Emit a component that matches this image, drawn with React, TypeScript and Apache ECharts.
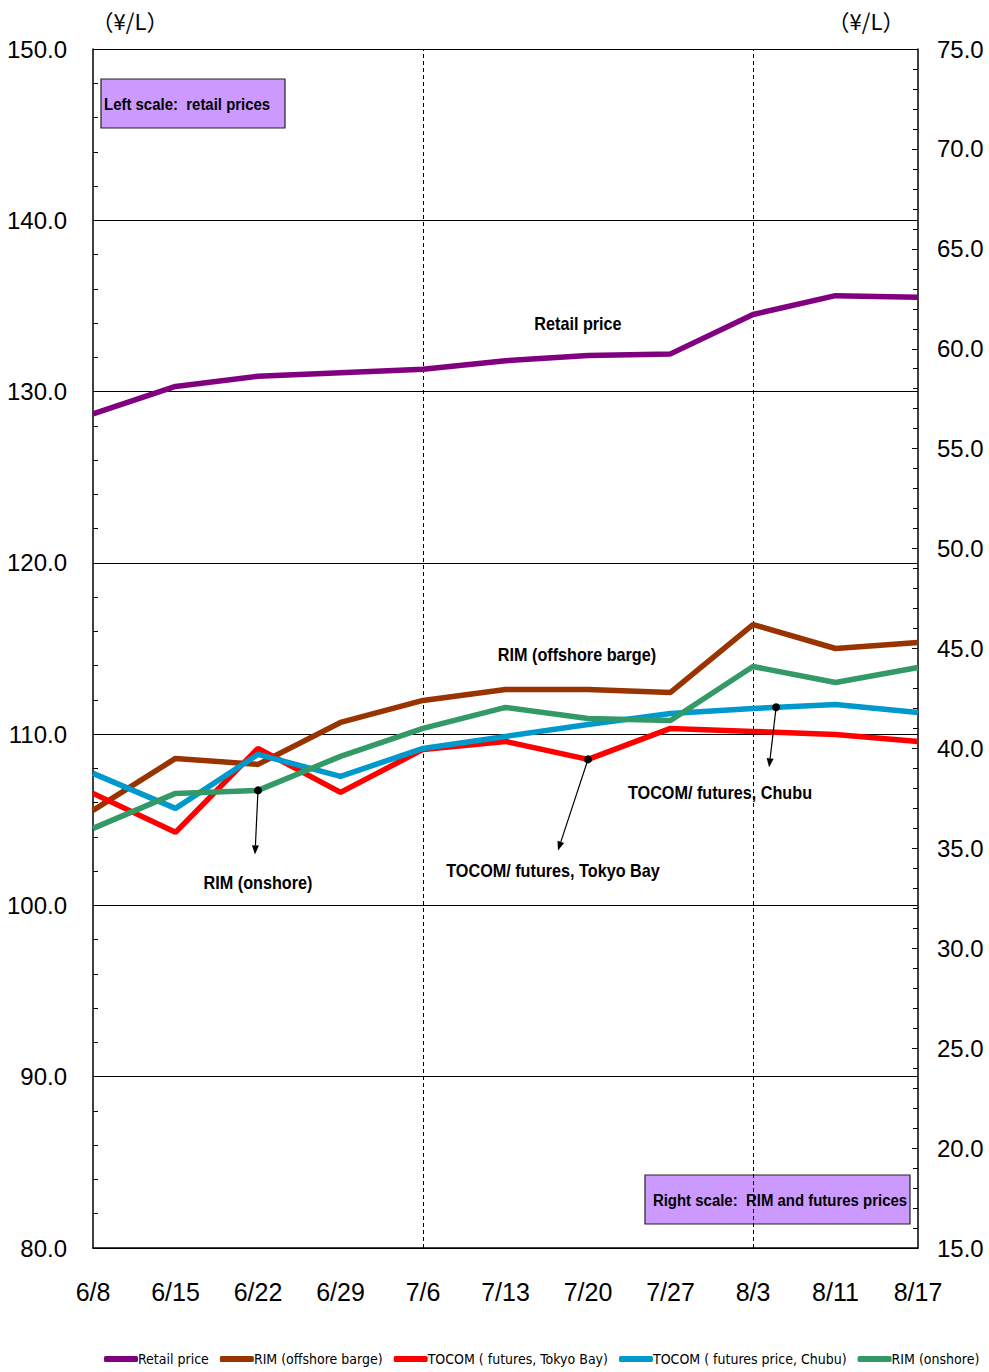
import React, { useEffect, useRef } from "react";
import * as echarts from "echarts";

const categories = ["6/8", "6/15", "6/22", "6/29", "7/6", "7/13", "7/20", "7/27", "8/3", "8/11", "8/17"];
const retailPrice = [128.7, 130.3, 130.9, 131.1, 131.3, 131.8, 132.1, 132.2, 134.5, 135.6, 135.5];
const rimOffshore = [36.9, 39.5, 39.2, 41.3, 42.4, 42.95, 42.95, 42.8, 46.2, 45.0, 45.3];
const tocomTokyo = [37.75, 35.8, 40.0, 37.8, 39.95, 40.35, 39.45, 41.0, 40.85, 40.7, 40.35];
const tocomChubu = [38.75, 37.0, 39.7, 38.6, 40.0, 40.6, 41.2, 41.75, 42.0, 42.2, 41.8];
const rimOnshore = [36.0, 37.75, 37.9, 39.6, 41.0, 42.05, 41.5, 41.4, 44.1, 43.3, 44.05];
const seriesNames = [
  "Retail price",
  "RIM (offshore barge)",
  "TOCOM ( futures, Tokyo Bay)",
  "TOCOM ( futures price, Chubu)",
  "RIM (onshore)",
];
const colors = ["#800080", "#993300", "#FF0000", "#0099CC", "#339966"];
const dashedDates = ["7/6", "8/3"];

const FONT = "'Liberation Sans', Arial, sans-serif";
const LEGEND_FONT = "'DejaVu Sans Condensed', 'DejaVu Sans', sans-serif";
const BOLD = "'Liberation Sans', Arial, sans-serif";

export default function App() {
  const ref = useRef<HTMLDivElement>(null);
  useEffect(() => {
    if (!ref.current) return;
    const chart = echarts.init(ref.current, null, { renderer: "svg" });
    const mk = (i: number, data: number[], yIdx: number, extra: any = {}) => ({
      name: seriesNames[i],
      type: "line",
      yAxisIndex: yIdx,
      data,
      symbol: "none",
      lineStyle: { color: colors[i], width: 5.5 },
      itemStyle: { color: colors[i] },
      z: 3,
      ...extra,
    });
    chart.setOption({
      animation: false,
      grid: { left: 93, top: 49, right: 71, bottom: 124, containLabel: false, outerBoundsMode: "none" },
      legend: {
        top: 1352,
        left: 104,
        width: 885,
        icon: "roundRect",
        itemWidth: 34,
        itemHeight: 6,
        itemGap: 11,
        padding: 0,
        textStyle: { fontFamily: LEGEND_FONT, fontSize: 14, color: "#000", padding: [0, 0, 0, -5] },
        data: seriesNames,
      },
      xAxis: {
        type: "category",
        data: categories,
        boundaryGap: false,
        axisLine: { lineStyle: { color: "#000", width: 1.5 } },
        axisTick: { show: false },
        axisLabel: { fontFamily: FONT, fontSize: 25, color: "#000", margin: 31 },
        splitLine: { show: false },
      },
      yAxis: [
        {
          type: "value",
          min: 80,
          max: 150,
          interval: 10,
          position: "left",
          axisLine: { show: true, lineStyle: { color: "#000", width: 1.5 } },
          axisTick: { show: true, inside: true, length: 6, lineStyle: { color: "#000" } },
          minorTick: { show: true, splitNumber: 5, length: 5, lineStyle: { color: "#000" } },
          axisLabel: {
            fontFamily: FONT,
            fontSize: 24,
            color: "#000",
            margin: 26,
            formatter: (v: number) => v.toFixed(1),
          },
          splitLine: { show: true, lineStyle: { color: "#000", width: 1 } },
        },
        {
          type: "value",
          min: 15,
          max: 75,
          interval: 5,
          position: "right",
          axisLine: { show: true, lineStyle: { color: "#000", width: 1.5 } },
          axisTick: { show: true, inside: true, length: 6, lineStyle: { color: "#000" } },
          minorTick: { show: true, splitNumber: 5, length: 5, lineStyle: { color: "#000" } },
          axisLabel: {
            fontFamily: FONT,
            fontSize: 24,
            color: "#000",
            margin: 19,
            formatter: (v: number) => v.toFixed(1),
          },
          splitLine: { show: false },
        },
      ],
      series: [
        mk(0, retailPrice, 0, {
          markLine: {
            silent: true,
            symbol: "none",
            label: { show: false },
            lineStyle: { color: "#000", type: [4, 3], width: 1 },
            data: dashedDates.map((d) => ({ xAxis: d })),
            z: 1,
          },
        }),
        mk(1, rimOffshore, 1),
        mk(2, tocomTokyo, 1),
        mk(3, tocomChubu, 1),
        mk(4, rimOnshore, 1),
      ],
    });

    const px = (cat: string, v: number) =>
      chart.convertToPixel({ xAxisIndex: 0, yAxisIndex: 1 }, [cat, v]) as number[];
    const arrow = (x0: number, y0: number, x1: number, y1: number) => {
      const ang = Math.atan2(y1 - y0, x1 - x0);
      const L = 9, W = 3.5;
      const bx = x1 - L * Math.cos(ang), by = y1 - L * Math.sin(ang);
      const nx = -Math.sin(ang) * W, ny = Math.cos(ang) * W;
      return [
        { type: "circle", shape: { cx: x0, cy: y0, r: 4 }, style: { fill: "#000" }, z: 10 },
        { type: "line", shape: { x1: x0, y1: y0, x2: bx, y2: by }, style: { stroke: "#000", lineWidth: 1.2 }, z: 10 },
        { type: "polygon", shape: { points: [[x1, y1], [bx + nx, by + ny], [bx - nx, by - ny]] }, style: { fill: "#000" }, z: 10 },
      ];
    };
    const p1 = px("6/22", rimOnshore[2]);
    const p2 = px("7/20", tocomTokyo[6]);
    const a = px("8/3", tocomChubu[8]);
    const b = px("8/11", tocomChubu[9]);
    const t = 0.28;
    const p3 = [a[0] + (b[0] - a[0]) * t, a[1] + (b[1] - a[1]) * t];

    const label = (text: string, x: number, y: number) => ({
      type: "text",
      x,
      y,
      scaleX: 0.9,
      style: { text, fontFamily: BOLD, fontWeight: "bold", fontSize: 18, fill: "#000", align: "center", verticalAlign: "middle" },
      z: 10,
    });
    const box = (x: number, y: number, w: number, h: number, text: string, tx: number, align: string) => ({
      type: "group",
      z: 10,
      children: [
        { type: "rect", shape: { x, y, width: w, height: h }, style: { fill: "#CC99FF", stroke: "#222", lineWidth: 1.2 } },
        {
          type: "text",
          x: tx,
          y: y + h / 2 + 1,
          scaleX: 0.88,
          style: { text, fontFamily: BOLD, fontWeight: "bold", fontSize: 17, fill: "#000", align, verticalAlign: "middle" },
        },
      ],
    });

    chart.setOption({
      graphic: [
        ...arrow(p1[0], p1[1], p1[0] - 3, p1[1] + 64),
        ...arrow(p2[0], p2[1], p2[0] - 30, p2[1] + 91),
        ...arrow(p3[0], p3[1], p3[0] - 7, p3[1] + 60),
        label("Retail price", 578, 324),
        label("RIM (offshore barge)", 577, 655),
        label("RIM (onshore)", 258, 883),
        label("TOCOM/ futures, Tokyo Bay", 553, 871),
        label("TOCOM/ futures, Chubu", 720, 793),
        box(101, 79, 184, 49, "Left scale:  retail prices", 104, "left"),
        box(645, 1175, 265, 49, "Right scale:  RIM and futures prices", 780, "center"),
        {
          type: "text",
          x: 130,
          y: 20,
          style: { text: "（¥/L）", fontFamily: "'Noto Sans CJK JP', sans-serif", fontSize: 22, fill: "#000", align: "center", verticalAlign: "middle" },
        },
        {
          type: "text",
          x: 866,
          y: 20,
          style: { text: "（¥/L）", fontFamily: "'Noto Sans CJK JP', sans-serif", fontSize: 22, fill: "#000", align: "center", verticalAlign: "middle" },
        },
      ],
    });
    return () => chart.dispose();
  }, []);
  return (
    <div
      ref={ref}
      style={{ position: "fixed", left: 0, top: 0, width: 989, height: 1372, background: "#fff" }}
    />
  );
}
